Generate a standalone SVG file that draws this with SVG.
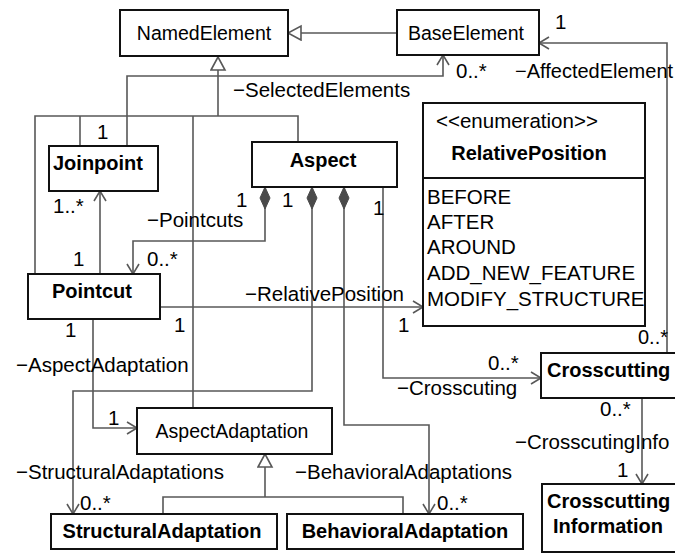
<svg xmlns="http://www.w3.org/2000/svg" width="675" height="556" viewBox="0 0 675 556">
<style>
.box{fill:#fff;stroke:#111;stroke-width:2}
.t{font-family:"Liberation Sans",Arial,Helvetica,sans-serif;font-size:20.5px;fill:#000}
.n{font-size:19.5px}
.s{font-size:20px}
.b{font-weight:bold;font-size:20px}
.c{text-anchor:middle}
.ln{fill:none;stroke:#585858;stroke-width:1.6}
</style>
<defs>
<marker id="open" viewBox="-1 -1 13 14" refX="10" refY="6" markerWidth="13" markerHeight="14" orient="auto" markerUnits="userSpaceOnUse">
<path d="M0,0 L10,6 L0,12" fill="none" stroke="#585858" stroke-width="1.6"/>
</marker>
<marker id="tri" viewBox="-1 -1 16 17" refX="13" refY="7" markerWidth="16" markerHeight="17" orient="auto" markerUnits="userSpaceOnUse">
<path d="M0,0 L13,7 L0,14 Z" fill="#fff" stroke="#585858" stroke-width="1.6"/>
</marker>
<marker id="dia" viewBox="-1 -1 25 13" refX="0" refY="5" markerWidth="25" markerHeight="13" orient="auto" markerUnits="userSpaceOnUse">
<path d="M0,5 L11,0 L22,5 L11,10 Z" fill="#4a4a4a" stroke="#4a4a4a" stroke-width="1"/>
</marker>
</defs>

<g id="connectors">
<path class="ln" d="M397,33 L288,33" marker-end="url(#tri)"/>
<path class="ln" d="M218,116 L218,57" marker-end="url(#tri)"/>
<path class="ln" d="M35,274 L35,116 L298,116 L298,142"/>
<path class="ln" d="M80,146 L80,116"/>
<path class="ln" d="M193,408 L193,116"/>
<path class="ln" d="M127,146 L127,76 L443,76 L443,55" marker-end="url(#open)"/>
<path class="ln" d="M667,353 L667,43 L539,43" marker-end="url(#open)"/>
<path class="ln" d="M100,274 L100,191" marker-end="url(#open)"/>
<path class="ln" d="M265,187 L265,241 L133,241 L133,274" marker-start="url(#dia)" marker-end="url(#open)"/>
<path class="ln" d="M160,307 L423,307" marker-end="url(#open)"/>
<path class="ln" d="M93,319 L93,428 L137,428" marker-end="url(#open)"/>
<path class="ln" d="M312,187 L312,391 L73,391 L73,514" marker-start="url(#dia)" marker-end="url(#open)"/>
<path class="ln" d="M344,187 L344,425 L429,425 L429,514" marker-start="url(#dia)" marker-end="url(#open)"/>
<path class="ln" d="M383,187 L383,378 L541,378" marker-end="url(#open)"/>
<path class="ln" d="M642,398 L642,484" marker-end="url(#open)"/>
<path class="ln" d="M163,514 L163,497 L403,497 L403,514"/>
<path class="ln" d="M265,497 L265,454" marker-end="url(#tri)"/>
</g>

<g id="labels">
<text class="t" x="233" y="97">−SelectedElements</text>
<text class="t" x="97" y="139">1</text>
<text class="t" x="456" y="78">0..*</text>
<text class="t" x="555" y="29">1</text>
<text class="t s" x="515" y="78">−AffectedElement</text>
<text class="t" x="53" y="213">1..*</text>
<text class="t" x="147" y="227">−Pointcuts</text>
<text class="t" x="73" y="266">1</text>
<text class="t" x="147" y="266">0..*</text>
<text class="t" x="236" y="207">1</text>
<text class="t" x="282" y="207">1</text>
<text class="t" x="373" y="215">1</text>
<text class="t" x="245" y="301">−RelativePosition</text>
<text class="t" x="398" y="332">1</text>
<text class="t" x="174" y="332">1</text>
<text class="t" x="65" y="337">1</text>
<text class="t" x="16" y="372">−AspectAdaptation</text>
<text class="t" x="108" y="425">1</text>
<text class="t" x="16" y="479">−StructuralAdaptations</text>
<text class="t" x="80" y="510">0..*</text>
<text class="t" x="295" y="479">−BehavioralAdaptations</text>
<text class="t" x="437" y="510">0..*</text>
<text class="t" x="488" y="370">0..*</text>
<text class="t" x="397" y="395">−Crosscuting</text>
<text class="t" x="600" y="416">0..*</text>
<text class="t" x="515" y="449">−CrosscutingInfo</text>
<text class="t" x="617" y="477">1</text>
<text class="t s" x="638" y="344">0..*</text>
</g>

<g id="NamedElement">
<rect class="box" x="120" y="10" width="168" height="46"/>
<text class="t n c" x="204" y="40">NamedElement</text>
</g>
<g id="BaseElement">
<rect class="box" x="397" y="10" width="142" height="45"/>
<text class="t n c" x="466" y="40">BaseElement</text>
</g>
<g id="Joinpoint">
<rect class="box" x="49" y="146" width="109" height="45"/>
<text class="t b" x="53" y="170">Joinpoint</text>
</g>
<g id="Aspect">
<rect class="box" x="252" y="142" width="145" height="45"/>
<text class="t b c" x="323" y="167">Aspect</text>
</g>
<g id="RelativePosition">
<rect class="box" x="423" y="103" width="222" height="223"/>
<line x1="423" y1="178" x2="645" y2="178" stroke="#111" stroke-width="2"/>
<text class="t" x="436" y="128">&lt;&lt;enumeration&gt;&gt;</text>
<text class="t b c" x="529" y="160">RelativePosition</text>
<text class="t" x="427" y="204">BEFORE</text>
<text class="t" x="427" y="229">AFTER</text>
<text class="t" x="427" y="254">AROUND</text>
<text class="t" x="427" y="280">ADD_NEW_FEATURE</text>
<text class="t" x="427" y="306">MODIFY_STRUCTURE</text>
</g>
<g id="Pointcut">
<rect class="box" x="28" y="274" width="132" height="45"/>
<text class="t b c" x="92" y="298">Pointcut</text>
</g>
<g id="Crosscutting">
<rect class="box" x="541" y="353" width="140" height="45"/>
<text class="t b" x="547" y="377">Crosscutting</text>
</g>
<g id="AspectAdaptation">
<rect class="box" x="137" y="408" width="195" height="46"/>
<text class="t n c" x="232" y="438">AspectAdaptation</text>
</g>
<g id="CrosscuttingInformation">
<rect class="box" x="542" y="484" width="140" height="68"/>
<text class="t b" x="547" y="508">Crosscutting</text>
<text class="t b" x="553" y="533">Information</text>
</g>
<g id="StructuralAdaptation">
<rect class="box" x="51" y="514" width="226" height="35"/>
<text class="t b c" x="162" y="538">StructuralAdaptation</text>
</g>
<g id="BehavioralAdaptation">
<rect class="box" x="287" y="514" width="236" height="35"/>
<text class="t b c" x="405" y="538">BehavioralAdaptation</text>
</g>
</svg>
